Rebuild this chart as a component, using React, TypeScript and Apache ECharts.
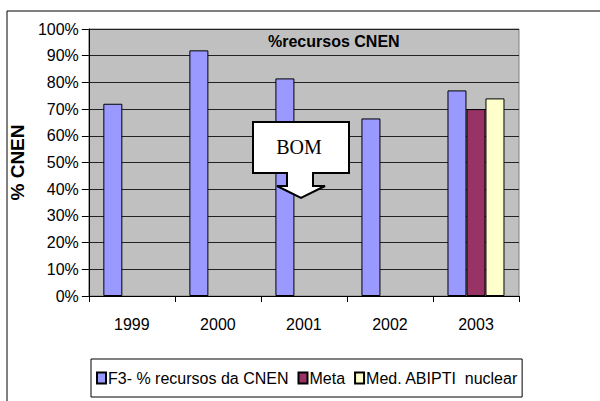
import React, { useEffect, useRef } from "react";
import * as echarts from "echarts";

const categories = ["1999", "2000", "2001", "2002", "2003"];
const f3Values = [72, 92, 81.5, 66.5, 77];
const metaValues = [null, null, null, null, 70];
const abiptiValues = [null, null, null, null, 74];
const seriesNames = ["F3- % recursos da CNEN", "Meta", "Med. ABIPTI  nuclear"];
const titleText = "%recursos CNEN";
const yAxisName = "% CNEN";
const calloutText = "BOM";

const SANS = "Liberation Sans, Arial, sans-serif";

export default function App() {
  const ref = useRef<HTMLDivElement>(null);
  useEffect(() => {
    if (!ref.current) return;
    const chart = echarts.init(ref.current, null, { renderer: "svg" });
    const barStyle = (color: string) => ({
      color,
      borderColor: "#000",
      borderWidth: 1,
    });
    chart.setOption({
      animation: false,
      backgroundColor: "#fff",
      textStyle: { fontFamily: SANS },
      title: {
        text: titleText,
        left: 268,
        top: 33,
        padding: 0,
        textStyle: { fontFamily: SANS, fontSize: 16, fontWeight: "bold", color: "#000" },
      },
      grid: {
        left: 85,
        top: 29,
        width: 434,
        height: 267,
        show: true,
        backgroundColor: "#C0C0C0",
        borderColor: "#808080",
        borderWidth: 1,
      },
      legend: {
        left: 91,
        top: 359,
        padding: [11, 4, 11, 5],
        borderColor: "#000",
        borderWidth: 1,
        itemWidth: 9,
        itemHeight: 11,
        itemGap: 9,
        icon: "rect",
        textStyle: { fontFamily: SANS, fontSize: 16, color: "#000", padding: [0, 0, 0, -3] },
        data: seriesNames,
      },
      xAxis: {
        type: "category",
        data: categories,
        boundaryGap: true,
        axisLine: { lineStyle: { color: "#000", width: 1 } },
        axisTick: { show: true, length: 6, inside: false, lineStyle: { color: "#000" } },
        axisLabel: { fontFamily: SANS, fontSize: 16, color: "#000", margin: 20 },
      },
      yAxis: {
        type: "value",
        min: 0,
        max: 100,
        interval: 10,
        name: yAxisName,
        nameLocation: "middle",
        nameGap: 48,
        nameRotate: 90,
        nameTextStyle: { fontFamily: SANS, fontSize: 19, fontWeight: "bold", color: "#000" },
        axisLine: { show: true, lineStyle: { color: "#000", width: 1 } },
        axisTick: { show: true, length: 7, lineStyle: { color: "#000" } },
        axisLabel: { fontFamily: SANS, fontSize: 16, color: "#000", margin: 10, formatter: "{value}%" },
        splitLine: { show: true, lineStyle: { color: "#222", width: 1 } },
      },
      series: [
        { name: seriesNames[0], type: "bar", data: f3Values, barWidth: 19, barGap: "0%", itemStyle: barStyle("#9999FF") },
        { name: seriesNames[1], type: "bar", data: metaValues, barWidth: 19, barGap: "0%", itemStyle: barStyle("#993366") },
        { name: seriesNames[2], type: "bar", data: abiptiValues, barWidth: 19, barGap: "0%", itemStyle: barStyle("#FFFFCC") },
      ],
      graphic: [
        { type: "line", shape: { x1: 7, y1: 11, x2: 600, y2: 11 }, style: { stroke: "#000", lineWidth: 1 } },
        { type: "line", shape: { x1: 7, y1: 11, x2: 7, y2: 401 }, style: { stroke: "#000", lineWidth: 1 } },
        {
          type: "polygon",
          z: 100,
          shape: {
            points: [
              [253, 122], [349, 122], [349, 173], [313, 173], [313, 186], [325, 186],
              [301, 198], [277, 186], [287, 186], [287, 173], [253, 173],
            ],
          },
          style: { fill: "#fff", stroke: "#000", lineWidth: 2 },
        },
        {
          type: "text",
          z: 101,
          x: 299,
          y: 147,
          style: {
            text: calloutText,
            fontFamily: "Liberation Serif, Times New Roman, serif",
            fontSize: 20,
            fill: "#000",
            textAlign: "center",
            textVerticalAlign: "middle",
          },
        },
      ],
    });
    return () => chart.dispose();
  }, []);
  return (
    <div
      ref={ref}
      style={{ position: "fixed", left: 0, top: 0, width: 600, height: 401 }}
    />
  );
}
